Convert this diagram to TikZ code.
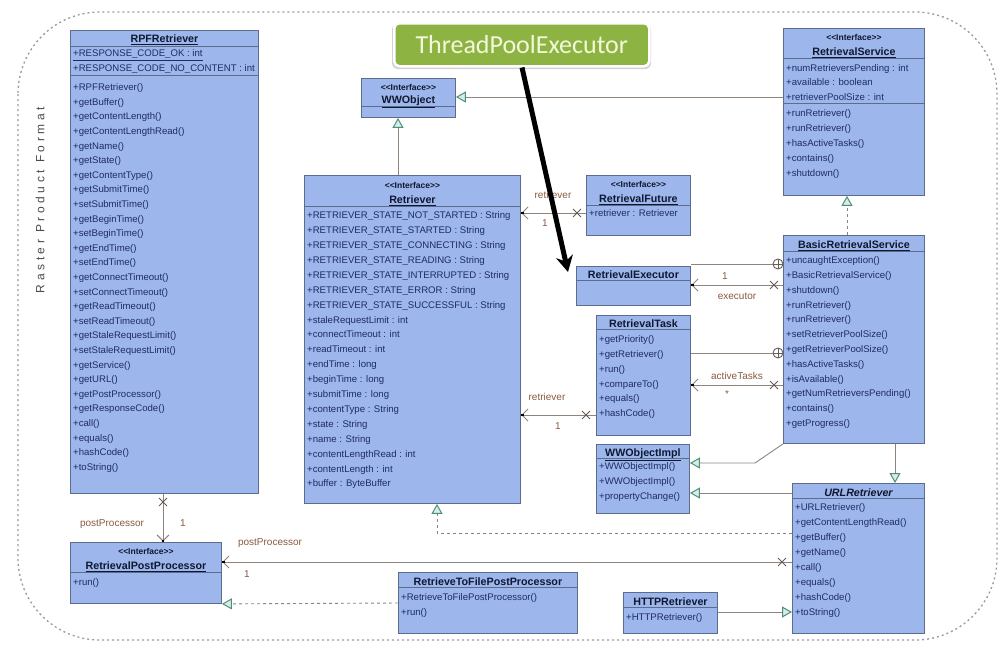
\documentclass[tikz,border=0pt]{standalone}
\usepackage{fontspec}
\setmainfont{Liberation Sans}
\newfontfamily\tpefont{Carlito}
\usetikzlibrary{arrows.meta,shapes.misc,calc}

\definecolor{boxfill}{HTML}{9DB6EC}
\definecolor{boxline}{HTML}{5C6C8C}
\definecolor{membtext}{HTML}{1E2C66}
\definecolor{titletext}{HTML}{101830}
\definecolor{conn}{HTML}{8E847C}
\definecolor{lbl}{HTML}{8A5A3E}
\definecolor{tristroke}{HTML}{4E8E80}
\definecolor{trifill}{HTML}{D6EDE6}
\definecolor{tpegreen}{HTML}{8DB443}
\definecolor{tpetext}{HTML}{F3F8DA}
\definecolor{framecol}{HTML}{9A9A9A}

% class rectangle from (x1,y1) to (x2,y2)
\newcommand\classbox[5]{\node[cls, anchor=north west, minimum width={(#4)-(#2)}, minimum height={(#5)-(#3)}] (#1) at (#2,#3) {};}
% compartment separator at height y
\newcommand\compline[2]{\draw[sepl] (#1.west |- 0,#2) -- (#1.east |- 0,#2);}
% member list: name, x, centre of first line, line pitch, lines
\newcommand\members[5]{\node[memb, font=\fontsize{9.6}{#4}\selectfont] (#1) at (#2,#3-3.5) {\rule{0pt}{7pt}#5};}
\newcommand\stereo{<\kern0pt<Interface>\kern0pt>}

\begin{document}
\begin{tikzpicture}[x=1pt,y=-1pt,
  cls/.style={draw=boxline, fill=boxfill, line width=0.9pt, inner sep=0pt, rectangle},
  sepl/.style={draw=boxline, line width=0.8pt},
  ttl/.style={inner sep=0pt, text height=7pt, text depth=0pt, text=titletext, font=\fontsize{10.7}{12}\selectfont\bfseries},
  stt/.style={ttl, font=\fontsize{8.5}{10}\selectfont\bfseries},
  memb/.style={anchor=north west, inner sep=0pt, align=left, text=membtext},
  lbl/.style={inner sep=0pt, text=lbl, font=\fontsize{10}{12}\selectfont},
  assoc/.style={draw=conn, line width=0.9pt},
  navi/.style={assoc, -{Straight Barb[length=6pt,width=12pt,line width=0.9pt,sep=-2pt]Square[length=2.5pt,width=2.5pt,black]}},
  gen/.style={assoc, -{Triangle[length=10pt,width=11pt,line width=1pt,color=tristroke,fill=trifill]}},
  real/.style={gen, dash pattern=on 3pt off 3pt},
  xmark/.style={cross out, draw=conn!70!black, line width=0.9pt, minimum size=7pt, inner sep=0pt},
  cplus/.style={circle, draw=conn!70!black, fill=white, line width=0.9pt, minimum size=10pt, inner sep=0pt,
    path picture={\draw[conn!70!black, line width=0.8pt]
      (path picture bounding box.north) -- (path picture bounding box.south)
      (path picture bounding box.west) -- (path picture bounding box.east);}},
  bigarrow/.style={line width=5pt, black, -{Stealth[length=16pt,width=17pt]}}
]
\useasboundingbox (0,0) rectangle (1004,649);
\fill[white] (0,0) rectangle (1004,649);

% package frame
\draw[framecol, line width=1.3pt, dash pattern=on 2pt off 3pt, rounded corners=82pt] (18,12) rectangle (997,640);
\node[rotate=90, inner sep=0pt, text=black!70, font=\fontsize{12}{14}\selectfont\addfontfeature{LetterSpace=30}] (pkgname) at (40,200) {Raster Product Format};

% ---------- classes ----------
% RPFRetriever
\classbox{rpf}{70}{30}{258}{493}
\node[ttl] (rpf-t) at (rpf.north |- 0,39) {\underline{RPFRetriever}};
\compline{rpf}{46}
\members{rpf-a}{73}{53}{14.8}{\underline{+RESPONSE\_CODE\_OK : int}\\\underline{+RESPONSE\_CODE\_NO\_CONTENT : int}}
\compline{rpf}{75}
\members{rpf-m}{73}{87}{14.6}{+RPFRetriever()\\+getBuffer()\\+getContentLength()\\+getContentLengthRead()\\+getName()\\+getState()\\+getContentType()\\+getSubmitTime()\\+setSubmitTime()\\+getBeginTime()\\+setBeginTime()\\+getEndTime()\\+setEndTime()\\+getConnectTimeout()\\+setConnectTimeout()\\+getReadTimeout()\\+setReadTimeout()\\+getStaleRequestLimit()\\+setStaleRequestLimit()\\+getService()\\+getURL()\\+getPostProcessor()\\+getResponseCode()\\+call()\\+equals()\\+hashCode()\\+toString()}

% Retriever
\classbox{retr}{304}{175}{520}{503}
\node[stt] (retr-s) at (retr.north |- 0,185) {\stereo};
\node[ttl] (retr-t) at (retr.north |- 0,200) {\underline{Retriever}};
\compline{retr}{206}
\members{retr-a}{307}{215}{14.9}{+RETRIEVER\_STATE\_NOT\_STARTED : String\\+RETRIEVER\_STATE\_STARTED : String\\+RETRIEVER\_STATE\_CONNECTING : String\\+RETRIEVER\_STATE\_READING : String\\+RETRIEVER\_STATE\_INTERRUPTED : String\\+RETRIEVER\_STATE\_ERROR : String\\+RETRIEVER\_STATE\_SUCCESSFUL : String\\+staleRequestLimit : int\\+connectTimeout : int\\+readTimeout : int\\+endTime : long\\+beginTime : long\\+submitTime : long\\+contentType : String\\+state : String\\+name : String\\+contentLengthRead : int\\+contentLength : int\\+buffer : ByteBuffer}

% WWObject
\classbox{wwo}{361}{78}{455}{117}
\node[stt] (wwo-s) at (wwo.north |- 0,87) {\stereo};
\node[ttl] (wwo-t) at (wwo.north |- 0,100) {\underline{WWObject}};
\compline{wwo}{106}

% RetrievalService
\classbox{rs}{783}{28}{924}{195}
\node[stt] (rs-s) at (rs.north |- 0,37) {\stereo};
\node[ttl] (rs-t) at (rs.north |- 0,52) {\underline{RetrievalService}};
\compline{rs}{58}
\members{rs-a}{786}{68}{14.2}{+numRetrieversPending : int\\+available : boolean\\+retrieverPoolSize : int}
\compline{rs}{103}
\members{rs-m}{786}{113}{15}{+runRetriever()\\+runRetriever()\\+hasActiveTasks()\\+contains()\\+shutdown()}

% BasicRetrievalService
\classbox{brs}{783}{235}{924}{443}
\node[ttl] (brs-t) at (brs.north |- 0,245) {\underline{BasicRetrievalService}};
\compline{brs}{251}
\members{brs-m}{786}{260}{14.8}{+uncaughtException()\\+BasicRetrievalService()\\+shutdown()\\+runRetriever()\\+runRetriever()\\+setRetrieverPoolSize()\\+getRetrieverPoolSize()\\+hasActiveTasks()\\+isAvailable()\\+getNumRetrieversPending()\\+contains()\\+getProgress()}

% URLRetriever
\classbox{urlr}{792}{483}{924}{633}
\node[ttl] (urlr-t) at (urlr.north |- 0,493) {\itshape\underline{URLRetriever}};
\compline{urlr}{498}
\members{urlr-m}{795}{507}{15}{+URLRetriever()\\+getContentLengthRead()\\+getBuffer()\\+getName()\\+call()\\+equals()\\+hashCode()\\+toString()}

% RetrievalFuture
\classbox{rf}{586}{175}{690}{235}
\node[stt] (rf-s) at (rf.north |- 0,184) {\stereo};
\node[ttl] (rf-t) at (rf.north |- 0,199) {\underline{RetrievalFuture}};
\compline{rf}{205}
\members{rf-a}{589}{213}{14.8}{+retriever : Retriever}

% RetrievalExecutor
\classbox{rex}{576}{266}{690}{305}
\node[ttl] (rex-t) at (rex.north |- 0,275) {\underline{RetrievalExecutor}};
\compline{rex}{280}

% RetrievalTask
\classbox{rt}{596}{315}{690}{435}
\node[ttl] (rt-t) at (rt.north |- 0,324) {\underline{RetrievalTask}};
\compline{rt}{329}
\members{rt-m}{599}{339}{14.8}{+getPriority()\\+getRetriever()\\+run()\\+compareTo()\\+equals()\\+hashCode()}

% WWObjectImpl
\classbox{wwi}{596}{444}{689}{513}
\node[ttl] (wwi-t) at (wwi.north |- 0,453) {\underline{WWObjectImpl}};
\compline{wwi}{458}
\members{wwi-m}{599}{466}{15}{+WWObjectImpl()\\+WWObjectImpl()\\+propertyChange()}

% RetrievalPostProcessor
\classbox{rpp}{70}{542}{221}{603}
\node[stt] (rpp-s) at (rpp.north |- 0,551) {\stereo};
\node[ttl] (rpp-t) at (rpp.north |- 0,566) {\underline{RetrievalPostProcessor}};
\compline{rpp}{572}
\members{rpp-m}{73}{582}{15}{+run()}

% RetrieveToFilePostProcessor
\classbox{rtf}{398}{572}{577}{633}
\node[ttl] (rtf-t) at (rtf.north |- 0,582) {\underline{RetrieveToFilePostProcessor}};
\compline{rtf}{587}
\members{rtf-m}{401}{597}{15}{+RetrieveToFilePostProcessor()\\+run()}

% HTTPRetriever
\classbox{http}{623}{592}{717}{633}
\node[ttl] (http-t) at (http.north |- 0,602) {\underline{HTTPRetriever}};
\compline{http}{607}
\members{http-m}{626}{617}{15}{+HTTPRetriever()}

% ThreadPoolExecutor callout
\fill[black!18, rounded corners=6pt] (392,24) rectangle (651,69);
\node[fill=tpegreen, draw=white, line width=2.5pt, rounded corners=5pt, minimum width=255, minimum height=43, anchor=north west, inner sep=0pt,
      text=tpetext, font=\tpefont\fontsize{26}{28}\selectfont] (tpe) at (393,22) {ThreadPoolExecutor};

% ---------- relations ----------
% generalisations and realisations
\draw[gen] (rs.west |- 0,97) -- (wwo.east |- 0,97);
\draw[gen] (retr.north -| 398,0) -- (wwo.south -| 398,0);
\draw[real] (brs.north -| 847,0) -- (rs.south -| 847,0);
\draw[gen] (brs.south -| 895,0) -- (urlr.north -| 895,0);
\draw[gen] (brs.south west) -- (755,463) -- (wwi.east |- 0,463);
\draw[gen] (urlr.west |- 0,493) -- (wwi.east |- 0,493);
\draw[real] (urlr.west |- 0,533) -- (437,533) -- (retr.south -| 437,0);
\draw[real] (rtf.west |- 0,603) -- (rpp.south east);
\draw[gen] (http.east |- 0,612) -- (urlr.west |- 0,612);

% compositions
\node[cplus] (cp-ex) at (778,264) {};
\draw[assoc] (cp-ex.west) -- (cp-ex -| rex.east);
\node[cplus] (cp-task) at (778,353) {};
\draw[assoc] (cp-task.west) -- (cp-task -| rt.east);

% navigable associations
\draw[navi] (rf.west |- 0,213) -- (retr.east |- 0,213);
\node[xmark] (x-rf) at (577,213) {};
\node[lbl] (l-rf1) at (553,195) {retriever};
\node[lbl] (l-rf2) at (545,223) {1};

\draw[navi] (brs.west |- 0,285) -- (rex.east |- 0,285);
\node[xmark] (x-ex) at (774,285) {};
\node[lbl] (l-ex1) at (725,276) {1};
\node[lbl] (l-ex2) at (737,296) {executor};

\draw[navi] (brs.west |- 0,385) -- (rt.east |- 0,385);
\node[xmark] (x-task) at (774,385) {};
\node[lbl] (l-task1) at (737,376) {activeTasks};
\node[lbl] (l-task2) at (727,394) {*};

\draw[navi] (rt.west |- 0,415) -- (retr.east |- 0,415);
\node[xmark] (x-rt) at (586,415) {};
\node[lbl] (l-rt1) at (547,397) {retriever};
\node[lbl] (l-rt2) at (558,426) {1};

\draw[navi] (urlr.west |- 0,562) -- (rpp.east |- 0,562);
\node[xmark] (x-url) at (782,562) {};
\node[lbl] (l-url1) at (270,543) {postProcessor};
\node[lbl] (l-url2) at (247,574) {1};

\draw[navi] (rpf.south -| 163,0) -- (rpp.north -| 163,0);
\node[xmark] (x-rpf) at (163,502) {};
\node[lbl] (l-rpf1) at (112,524) {postProcessor};
\node[lbl] (l-rpf2) at (183,523) {1};

% executor pointer
\coordinate (tpe-tip) at (568,272);
\draw[bigarrow] (tpe.south -| 522,0) -- (tpe-tip);
\end{tikzpicture}
\end{document}
